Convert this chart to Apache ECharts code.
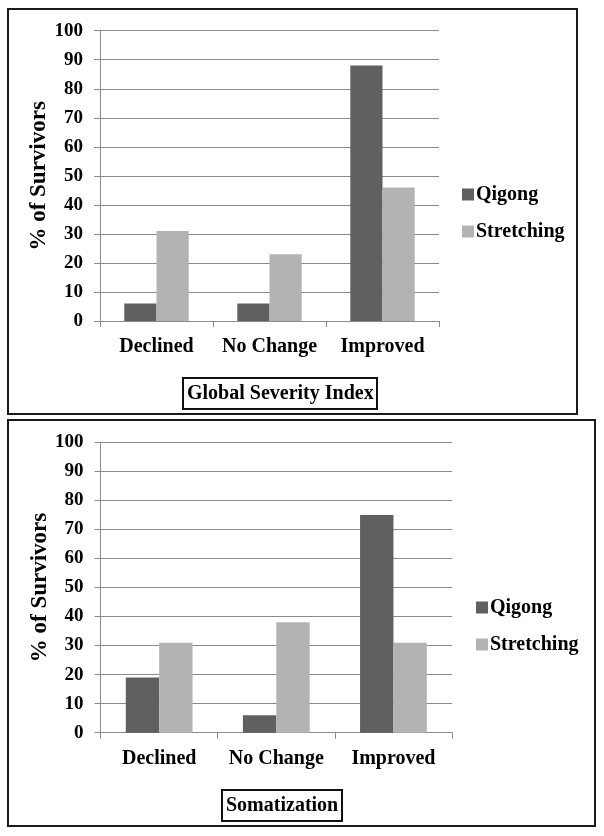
<!DOCTYPE html>
<html>
<head>
<meta charset="utf-8">
<script src="https://cdn.jsdelivr.net/npm/echarts@6/dist/echarts.min.js"></script>
<style>
html,body{margin:0;padding:0;background:#fff;}
#chart{width:604px;height:836px;}
</style>
</head>
<body>
<div id="chart"></div>
<script>
// ---- data ----
const categories = ['Declined', 'No Change', 'Improved'];
const seriesNames = ['Qigong', 'Stretching'];
const gsiQigong = [6, 6, 88];
const gsiStretching = [31, 23, 46];
const somQigong = [19, 6, 75];
const somStretching = [31, 38, 31];
const yTicks = [0, 10, 20, 30, 40, 50, 60, 70, 80, 90, 100];
const panelTitles = ['Global Severity Index', 'Somatization'];
const yAxisTitle = '% of Survivors';

// ---- styles ----
const FONT = 'Liberation Serif';
const DARK = '#606060';
const LIGHT = '#b3b3b3';
const GRIDC = '#8a8a8a';

const chart = echarts.init(document.getElementById('chart'), null, {renderer: 'canvas'});

function xAx(gi) {
  return {
    type: 'category', gridIndex: gi, data: categories,
    axisLine: {show: true, lineStyle: {color: GRIDC, width: 1}},
    axisTick: {show: true, length: 6, alignWithLabel: false, lineStyle: {color: GRIDC}},
    axisLabel: {interval: 0, fontFamily: FONT, fontWeight: 'bold', fontSize: 20, color: '#000', margin: 16},
    splitLine: {show: false}
  };
}
function yAx(gi) {
  return {
    type: 'value', gridIndex: gi, min: yTicks[0], max: yTicks[yTicks.length - 1], interval: yTicks[1] - yTicks[0],
    name: yAxisTitle, nameLocation: 'middle', nameRotate: 90, nameGap: 49, nameMoveOverlap: false,
    nameTextStyle: {fontFamily: FONT, fontWeight: 'bold', fontSize: 23, color: '#000'},
    axisLine: {show: true, lineStyle: {color: GRIDC, width: 1}},
    axisTick: {show: true, length: 6, lineStyle: {color: GRIDC}},
    axisLabel: {fontFamily: FONT, fontWeight: 'bold', fontSize: 19, color: '#000', margin: 17},
    splitLine: {show: true, lineStyle: {color: GRIDC, width: 1}}
  };
}
function bar(name, data, gi, color) {
  return {
    type: 'bar', name: name, data: data, xAxisIndex: gi, yAxisIndex: gi,
    barGap: '0%', barCategoryGap: '43%',
    itemStyle: {color: color}
  };
}
function legend(left, top) {
  return {
    orient: 'vertical', left: left, top: top, padding: 0,
    itemWidth: 12, itemHeight: 12, itemGap: 16, icon: 'rect',
    data: seriesNames,
    textStyle: {fontFamily: FONT, fontWeight: 'bold', fontSize: 20, color: '#000', lineHeight: 21, padding: [0, 0, 0, -3]}
  };
}
function titleBox(text, left, top) {
  return {
    text: text, left: left, top: top,
    padding: [5, 4, 5, 4],
    borderColor: '#111', borderWidth: 2,
    textStyle: {fontFamily: FONT, fontWeight: 'bold', fontSize: 20, color: '#000', lineHeight: 21}
  };
}

const option = {
  backgroundColor: '#fff',
  animation: false,
  title: [
    titleBox(panelTitles[0], 183, 378),
    titleBox(panelTitles[1], 222, 790)
  ],
  legend: [
    legend(462, 184),
    legend(476, 597)
  ],
  grid: [
    {left: 100, top: 30.7, width: 339, height: 290.3, containLabel: false},
    {left: 100.6, top: 442.3, width: 351.4, height: 290.4, containLabel: false}
  ],
  xAxis: [xAx(0), xAx(1)],
  yAxis: [yAx(0), yAx(1)],
  series: [
    bar(seriesNames[0], gsiQigong, 0, DARK),
    bar(seriesNames[1], gsiStretching, 0, LIGHT),
    bar(seriesNames[0], somQigong, 1, DARK),
    bar(seriesNames[1], somStretching, 1, LIGHT)
  ],
  graphic: [
    {type: 'rect', shape: {x: 8, y: 9, width: 569, height: 405}, style: {fill: 'none', stroke: '#1a1a1a', lineWidth: 2}, silent: true},
    {type: 'rect', shape: {x: 8, y: 420, width: 587, height: 406}, style: {fill: 'none', stroke: '#1a1a1a', lineWidth: 2}, silent: true}
  ]
};
chart.setOption(option);
</script>
</body>
</html>
